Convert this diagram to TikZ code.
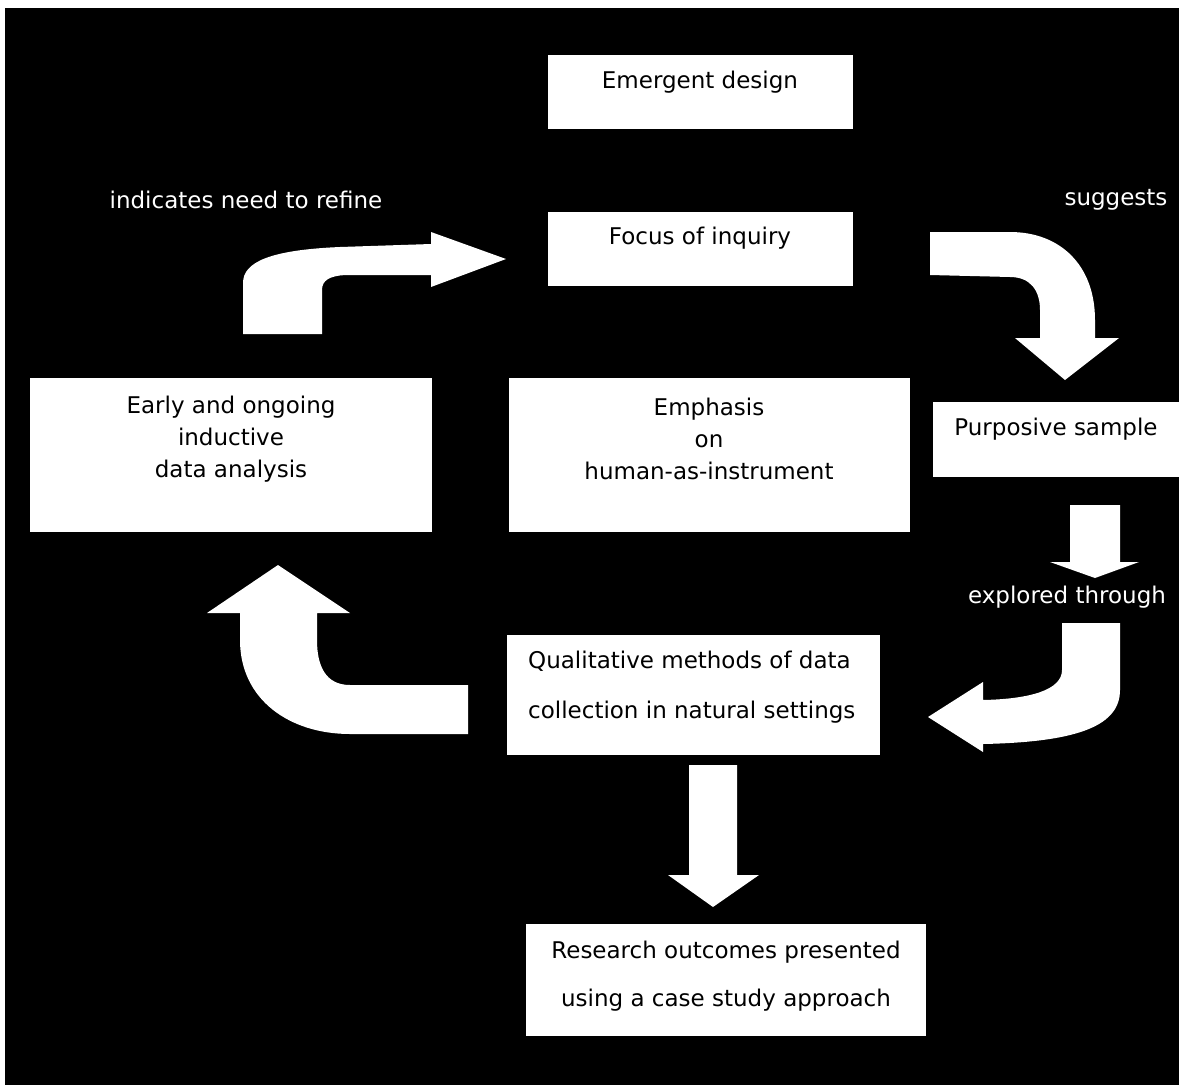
\documentclass[tikz,border=0pt]{standalone}
\usepackage{fontspec}
\setmainfont{DejaVu Sans}
\begin{document}
\begin{tikzpicture}[x=1pt,y=-1pt,
  box/.style={fill=white, draw=none, inner sep=0pt, anchor=north west},
  boxtext/.style={text=black, font=\fontsize{23}{32}\selectfont, align=center, inner sep=0pt},
  note/.style={text=white, font=\fontsize{23}{32}\selectfont, inner sep=0pt},
  blockarrow/.style={fill=white, draw=none}]
\useasboundingbox (0,0) rectangle (1179,1085);
\fill[white] (0,0) rectangle (1179,1085);
\fill[black] (5,8) rectangle (1179,1085);

% boxes
\node[box, minimum width=305pt, minimum height=74pt] (emergent) at (548,55) {};
\node[boxtext] (emergentT) at (700,82) {Emergent design};

\node[box, minimum width=305pt, minimum height=74pt] (focus) at (548,212) {};
\node[boxtext] (focusT) at (700,238) {Focus of inquiry};

\node[box, minimum width=402pt, minimum height=154pt] (early) at (30,378) {};
\node[boxtext] (earlyT) at (231,439) {Early and ongoing\\inductive\\data analysis};

\node[box, minimum width=401pt, minimum height=154pt] (emphasis) at (509,378) {};
\node[boxtext] (emphasisT) at (709,439) {Emphasis\\on\\human-as-instrument};

\node[box, minimum width=246pt, minimum height=75pt] (purposive) at (933,402) {};
\node[boxtext] (purposiveT) at (1056,429) {Purposive sample};

\node[box, minimum width=373pt, minimum height=120pt] (qualitative) at (507,635) {};
\node[boxtext, align=left, anchor=west, font=\fontsize{23}{50}\selectfont] (qualitativeT) at (528,687)
  {Qualitative methods of data\\collection in natural settings};

\node[box, minimum width=400pt, minimum height=112pt] (research) at (526,924) {};
\node[boxtext, font=\fontsize{23}{48}\selectfont] (researchT) at (726,976)
  {Research outcomes presented\\using a case study approach};

% labels on the dark ground
\node[note] (refine) at (246,200) {indicates need to refine};
\node[note] (suggests) at (1116,200) {suggests};
\node[note] (explored) at (1067,597) {explored through};

% analysis -> focus of inquiry
\fill[blockarrow] (243,334) -- (243,283) .. controls (243,262) and (270,250) .. (340,247)
  -- (431,244) -- (431,232) -- (506,259) -- (431,287) -- (431,275) -- (345,275)
  .. controls (330,276) and (322,280) .. (322,290) -- (322,334) -- cycle;

% focus of inquiry -> purposive sample
\fill[blockarrow] (930,232) -- (1010,232) .. controls (1060,232) and (1095,265) .. (1095,320)
  -- (1095,338) -- (1119,338) -- (1065,380) -- (1015,338) -- (1040,338) -- (1040,310)
  .. controls (1040,290) and (1030,277) .. (1010,277) -- (930,275) -- cycle;

% purposive sample -> explored through
\fill[blockarrow] (1070,505) -- (1120,505) -- (1120,562) -- (1139,562) -- (1095,578)
  -- (1050,562) -- (1070,562) -- cycle;

% explored through -> qualitative methods
\fill[blockarrow] (1062,623) -- (1120,623) -- (1120,690) .. controls (1120,725) and (1080,742) .. (983,744)
  -- (983,752) -- (928,717) -- (983,682) -- (983,700)
  .. controls (1030,699) and (1062,690) .. (1062,670) -- cycle;

% qualitative methods -> analysis
\fill[blockarrow] (468,685) -- (350,685) .. controls (325,685) and (317,665) .. (317,640)
  -- (317,613) -- (350,613) -- (278,565) -- (207,613) -- (240,613) -- (240,640)
  .. controls (240,700) and (290,734) .. (350,734) -- (468,734) -- cycle;

% qualitative methods -> research outcomes
\fill[blockarrow] (689,765) -- (737,765) -- (737,875) -- (759,875) -- (713,907)
  -- (668,875) -- (689,875) -- cycle;
\end{tikzpicture}
\end{document}
